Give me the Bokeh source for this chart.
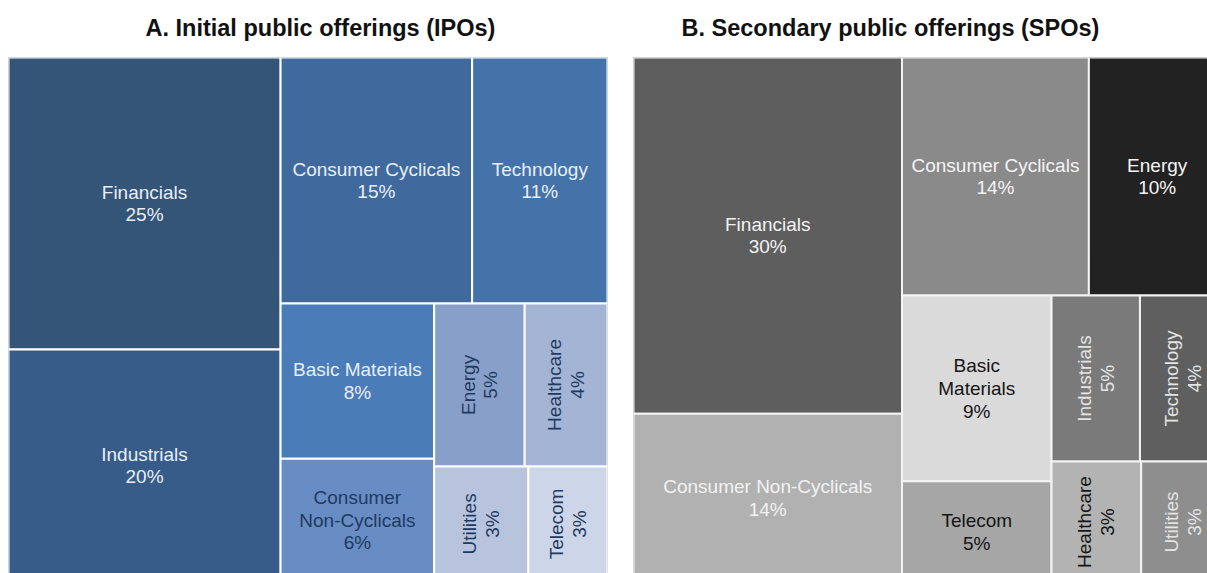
import math
from bokeh.plotting import figure
from bokeh.layouts import row
from bokeh.models import ColumnDataSource, Range1d
from bokeh.core.properties import value
from bokeh.embed import file_html
from bokeh.resources import INLINE

# ---------------- data ----------------
ipo_sectors = ["Financials", "Industrials", "Consumer Cyclicals", "Technology", "Basic Materials",
               "Consumer Non-Cyclicals", "Energy", "Healthcare", "Utilities", "Telecom"]
ipo_share = [25.3, 20.1, 15.0, 10.6, 7.6, 6.0, 4.7, 4.3, 3.45, 2.9]

spo_sectors = ["Financials", "Consumer Non-Cyclicals", "Consumer Cyclicals", "Energy", "Basic Materials",
               "Telecom", "Industrials", "Technology", "Healthcare", "Utilities"]
spo_share = [30.0, 14.2, 13.95, 10.2, 8.7, 4.75, 4.6, 4.45, 3.4, 3.2]

panel_titles = ["A. Initial public offerings (IPOs)", "B. Secondary public offerings (SPOs)"]

# ---------------- styles ----------------
ipo_fill = {"Financials": "#345478", "Industrials": "#385c8a", "Consumer Cyclicals": "#406a9d",
            "Technology": "#4473aa", "Basic Materials": "#4a7cb8", "Consumer Non-Cyclicals": "#688dc4",
            "Energy": "#88a0c9", "Healthcare": "#a3b4d5", "Utilities": "#b8c4de", "Telecom": "#cdd5e8"}
ipo_text = {"Financials": "#e9eef6", "Industrials": "#e9eef6", "Consumer Cyclicals": "#e9eef6",
            "Technology": "#e9eef6", "Basic Materials": "#e9eef6", "Consumer Non-Cyclicals": "#1f3a60",
            "Energy": "#1f3a60", "Healthcare": "#1f3a60", "Utilities": "#1f3a60", "Telecom": "#1f3a60"}
spo_fill = {"Financials": "#5e5e5e", "Consumer Non-Cyclicals": "#b1b1b1", "Consumer Cyclicals": "#8a8a8a",
            "Energy": "#222222", "Basic Materials": "#dadada", "Telecom": "#a6a6a6",
            "Industrials": "#7a7a7a", "Technology": "#5f5f5f", "Healthcare": "#b3b3b3", "Utilities": "#8e8e8e"}
spo_text = {"Financials": "#f2f2f2", "Consumer Non-Cyclicals": "#f2f2f2", "Consumer Cyclicals": "#f4f4f4",
            "Energy": "#f4f4f4", "Basic Materials": "#151515", "Telecom": "#151515",
            "Industrials": "#e4e4e4", "Technology": "#e4e4e4", "Healthcare": "#151515", "Utilities": "#e4e4e4"}
ipo_break = set()
spo_break = {"Basic Materials"}   # labels broken at every space

FONT = "Liberation Sans"
LABEL_PX = 19

# Arial/Liberation Sans advance widths (per 1000 em) for label wrapping
_W = {" ": 278, "%": 889, "-": 333, "A": 667, "B": 667, "C": 722, "E": 667, "F": 611, "H": 722,
      "I": 278, "M": 833, "N": 722, "T": 611, "U": 722, "a": 556, "b": 556, "c": 500, "d": 556,
      "e": 556, "f": 278, "g": 556, "h": 556, "i": 222, "l": 222, "m": 833, "n": 556, "o": 556,
      "p": 556, "r": 333, "s": 500, "t": 278, "u": 556, "y": 500}


def text_width(s):
    return sum(_W.get(ch, 556) for ch in s) / 1000.0 * LABEL_PX


def wrap(name, avail):
    words = name.split(" ")
    lines, cur = [], ""
    for w in words:
        trial = w if not cur else cur + " " + w
        if cur and text_width(trial) > avail:
            lines.append(cur)
            cur = w
        else:
            cur = trial
    lines.append(cur)
    return lines


def squarify(vals, x, y, w, h):
    """Squarified treemap (Bruls et al.); y grows upward, rows start at the top-left."""
    total = float(sum(vals))
    areas = [v * w * h / total for v in vals]
    rects = []

    def worst(r, side):
        s = sum(r)
        return max(max(side * side * a / (s * s), (s * s) / (side * side * a)) for a in r)

    i = 0
    while i < len(areas):
        side = min(w, h)
        cur = [areas[i]]
        i += 1
        while i < len(areas) and worst(cur + [areas[i]], side) <= worst(cur, side):
            cur.append(areas[i])
            i += 1
        s = sum(cur)
        if w >= h:
            cw = s / h
            top = y + h
            for a in cur:
                ch = a / cw
                rects.append((x, top - ch, x + cw, top))
                top -= ch
            x += cw
            w -= cw
        else:
            rh = s / w
            left = x
            for a in cur:
                rw = a / rh
                rects.append((left, y + h - rh, left + rw, y + h))
                left += rw
            h -= rh
    return rects


def make_panel(sectors, shares, fills, tcolors, breaks, title, panel_w, panel_h, view_w,
               border_l, border_r, title_offset, sep_color):
    order = sorted(range(len(shares)), key=lambda k: -shares[k])
    names = [sectors[k] for k in order]
    vals = [shares[k] for k in order]
    rects = squarify(vals, 0.0, 0.0, panel_w, panel_h)

    src = ColumnDataSource(dict(left=[r[0] for r in rects], right=[r[2] for r in rects],
                                bottom=[r[1] for r in rects], top=[r[3] for r in rects],
                                fill=[fills[n] for n in names]))

    tx, ty, tt, ta, tc = [], [], [], [], []
    for n, v, (x0, y0, x1, y1) in zip(names, vals, rects):
        bw, bh = x1 - x0, y1 - y0
        rotate = bw < 100 and bh > bw
        avail = (bh if rotate else bw) - 12
        lines = n.split(" ") if n in breaks else wrap(n, avail)
        lines = lines + ["%d%%" % round(v)]
        tx.append((x0 + x1) / 2.0)
        ty.append((y0 + y1) / 2.0)
        tt.append("\n".join(lines))
        ta.append(math.pi / 2 if rotate else 0.0)
        tc.append(tcolors[n])
    lsrc = ColumnDataSource(dict(x=tx, y=ty, text=tt, angle=ta, color=tc))

    p = figure(frame_width=view_w, frame_height=516,
               x_range=Range1d(0, view_w), y_range=Range1d(panel_h - 516, panel_h),
               x_axis_type=None, y_axis_type=None, toolbar_location=None,
               output_backend="svg", title=title,
               min_border_left=border_l, min_border_right=border_r,
               min_border_top=57, min_border_bottom=0)
    p.grid.visible = False
    p.background_fill_color = "white"
    p.border_fill_color = "white"
    p.outline_line_color = "#c4c4c4"
    p.outline_line_width = 1

    p.quad(left="left", right="right", bottom="bottom", top="top", source=src,
           fill_color="fill", line_color=sep_color, line_width=2)
    p.text(x="x", y="y", text="text", angle="angle", source=lsrc, text_color="color",
           text_font=value(FONT), text_font_size="19px", text_align="center",
           text_baseline="middle", text_line_height=1.08)

    p.title.align = "left"
    p.title.offset = title_offset
    p.title.vertical_align = "top"
    p.title.text_font = FONT
    p.title.text_font_size = "23.5px"
    p.title.text_font_style = "bold"
    p.title.text_color = "#111111"
    p.title.standoff = 29
    return p


pa = make_panel(ipo_sectors, ipo_share, ipo_fill, ipo_text, ipo_break, panel_titles[0],
                599.0, 524.0, 599, 8, 13, 137, "white")
pb = make_panel(spo_sectors, spo_share, spo_fill, spo_text, spo_break, panel_titles[1],
                592.0, 525.0, 574, 13, 0, 48, "#f4f4f4")

layout = row(pa, pb)
open("out.html", "w").write(file_html(layout, INLINE))
